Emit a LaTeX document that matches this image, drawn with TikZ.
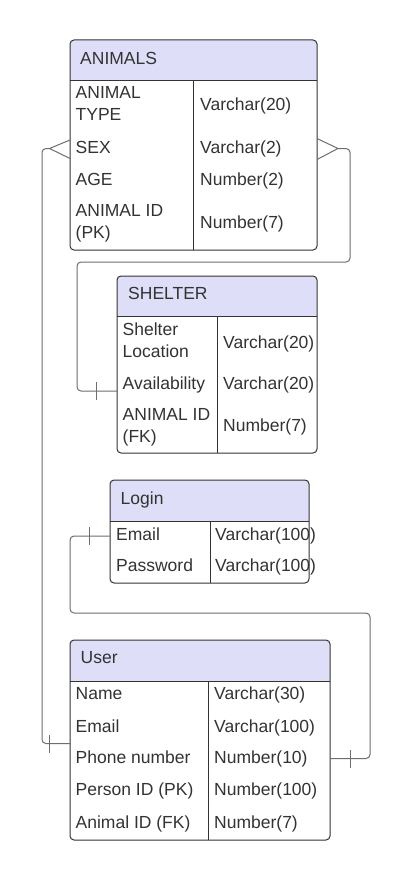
\documentclass[tikz,border=0pt]{standalone}
\usepackage{fontspec}
\setmainfont{Liberation Sans}
\definecolor{hdrcol}{RGB}{222,222,248}
\definecolor{bordercol}{RGB}{51,51,51}
\definecolor{txtcol}{RGB}{51,51,51}
\definecolor{conncol}{RGB}{110,110,110}
\tikzset{
  tablebox/.style={draw=bordercol, line width=1pt, rounded corners=4pt, inner sep=0pt, outer sep=0pt},
  tbl/.style={draw=bordercol, line width=1pt},
  fld/.style={font=\fontsize{17.5}{21.8}\selectfont, text=txtcol, inner sep=0pt, align=left},
  conn/.style={draw=conncol, line width=1pt, rounded corners=4pt},
  tickmark/.style={draw=conncol, line width=1pt},
}
\newcommand\ertab[7]{%
  \begin{scope}
    \clip[rounded corners=4pt] (#2,#3) rectangle (#4,#6);
    \fill[hdrcol] (#2,#3) rectangle (#4,#5);
  \end{scope}
  \node[tablebox, anchor=north west, minimum width={#4-#2}, minimum height={#6-#3}] (#1) at (#2,#3) {};
  \draw[tbl] (#2,#5) -- (#4,#5);
  \draw[tbl] (#7,#5) -- (#7,#6);
}
\begin{document}
\begin{tikzpicture}[x=1pt,y=-1pt]
\useasboundingbox[fill=white] (0,0) rectangle (411,880);

% ---------------- ANIMALS ----------------
\ertab{animals}{70}{40}{317}{81}{250}{193}
\node[fld, anchor=base west] (animalsH) at (80,64.5) {ANIMALS};
\node[fld, anchor=base west] (aType) at (75.5,120.8) {ANIMAL\\TYPE};
\node[fld, anchor=base west] (aTypeV) at (200,111) {Varchar(20)};
\node[fld, anchor=base west] (aSex) at (75.5,153) {SEX};
\node[fld, anchor=base west] (aSexV) at (200,153) {Varchar(2)};
\node[fld, anchor=base west] (aAge) at (75.5,185) {AGE};
\node[fld, anchor=base west] (aAgeV) at (200,185) {Number(2)};
\node[fld, anchor=base west] (aId) at (75.5,238.5) {ANIMAL ID\\(PK)};
\node[fld, anchor=base west] (aIdV) at (200,228) {Number(7)};

% ---------------- SHELTER ----------------
\ertab{shelter}{117}{276}{317}{316}{453}{217}
\node[fld, anchor=base west] (shelterH) at (128,299) {SHELTER};
\node[fld, anchor=base west] (sLoc) at (122.5,357) {Shelter\\Location};
\node[fld, anchor=base west] (sLocV) at (223,348) {Varchar(20)};
\node[fld, anchor=base west] (sAv) at (122.5,389) {Availability};
\node[fld, anchor=base west] (sAvV) at (223,389) {Varchar(20)};
\node[fld, anchor=base west] (sId) at (122.5,442.5) {ANIMAL ID\\(FK)};
\node[fld, anchor=base west] (sIdV) at (223,431.5) {Number(7)};

% ---------------- Login ----------------
\ertab{login}{110}{480}{309}{521}{583}{210}
\node[fld, anchor=base west] (loginH) at (120.5,504.5) {Login};
\node[fld, anchor=base west] (lEmail) at (116,540.5) {Email};
\node[fld, anchor=base west] (lEmailV) at (215,540.5) {Varchar(100)};
\node[fld, anchor=base west] (lPw) at (116,571.5) {Password};
\node[fld, anchor=base west] (lPwV) at (215,571.5) {Varchar(100)};

% ---------------- User ----------------
\ertab{user}{70}{640}{330}{681}{840}{208}
\node[fld, anchor=base west] (userH) at (80.5,663.5) {User};
\node[fld, anchor=base west] (uName) at (75.5,699) {Name};
\node[fld, anchor=base west] (uNameV) at (214,699) {Varchar(30)};
\node[fld, anchor=base west] (uEmail) at (75.5,732.3) {Email};
\node[fld, anchor=base west] (uEmailV) at (214,732.3) {Varchar(100)};
\node[fld, anchor=base west] (uPhone) at (75.5,763.6) {Phone number};
\node[fld, anchor=base west] (uPhoneV) at (214,763.6) {Number(10)};
\node[fld, anchor=base west] (uPid) at (75.5,795.6) {Person ID (PK)};
\node[fld, anchor=base west] (uPidV) at (214,795.6) {Number(100)};
\node[fld, anchor=base west] (uAid) at (75.5,828) {Animal ID (FK)};
\node[fld, anchor=base west] (uAidV) at (214,828) {Number(7)};

% ---------------- connector endpoints ----------------
\coordinate (cfL) at (49.5,148.5);
\coordinate (cfLup) at (70,140);
\coordinate (cfLdn) at (70,158.5);
\coordinate (cfR) at (338,148.5);
\coordinate (cfRup) at (317,138.5);
\coordinate (cfRdn) at (317,159.5);
\coordinate (shIn) at (117,391);
\coordinate (usInL) at (70,743.5);
\coordinate (lgIn) at (110,536);
\coordinate (usInR) at (330,758.5);

% ANIMALS (many) -- User (one), left side
\draw[tickmark] (cfLup) -- (cfL) -- (cfLdn);
\draw[conn] (cfL) -- (42,148.5) -- (42,743.5) -- (usInL);
\draw[tickmark] (49.5,735) -- (49.5,753);

% ANIMALS (many) -- SHELTER (one), right side
\draw[tickmark] (cfRup) -- (cfR) -- (cfRdn);
\draw[conn] (cfR) -- (350,148.5) -- (350,262) -- (77,262) -- (77,391) -- (shIn);
\draw[tickmark] (96.5,382) -- (96.5,400);

% Login (one) -- User (one)
\draw[conn] (lgIn) -- (70,536) -- (70,613) -- (370,613) -- (370,758.5) -- (usInR);
\draw[tickmark] (89.5,527) -- (89.5,545);
\draw[tickmark] (350,750) -- (350,768);
\end{tikzpicture}
\end{document}
